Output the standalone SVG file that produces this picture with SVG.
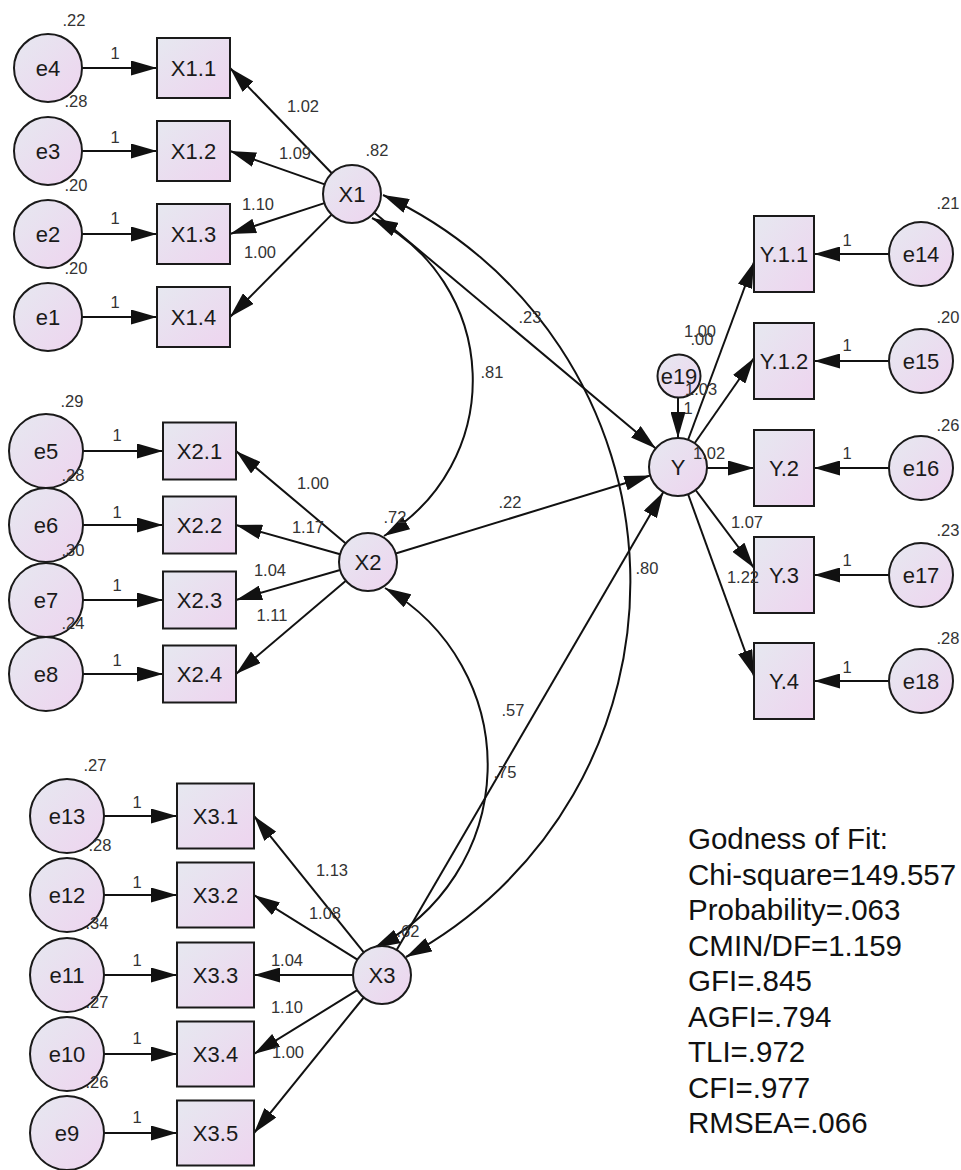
<svg xmlns="http://www.w3.org/2000/svg" width="961" height="1170" viewBox="0 0 961 1170">
<style>
.n{fill:url(#g);stroke:#1a1a1a;stroke-width:2}
.t{font-family:"Liberation Sans",Arial,sans-serif;font-size:22px;fill:#1a1a1a;text-anchor:middle}
.l{font-family:"Liberation Sans",Arial,sans-serif;font-size:16.5px;fill:#333;text-anchor:middle}
.s{text-anchor:start}
.f{font-family:"Liberation Sans",Arial,sans-serif;font-size:29.5px;fill:#111}
#connectors line,#connectors path{stroke:#111;stroke-width:2;fill:none}
</style>
<defs>
<linearGradient id="g" x1="0" y1="0" x2="1" y2="1">
<stop offset="0" stop-color="#e6e8f0"/>
<stop offset="1" stop-color="#eed4ef"/>
</linearGradient>
<marker id="ah" viewBox="0 0 26 15" refX="26" refY="7.5" markerWidth="26" markerHeight="15" markerUnits="userSpaceOnUse" orient="auto"><path d="M0,0 L26,7.5 L0,15 z" fill="#111"/></marker>
<marker id="ah2" viewBox="0 0 26 15" refX="26" refY="7.5" markerWidth="26" markerHeight="15" markerUnits="userSpaceOnUse" orient="auto-start-reverse"><path d="M0,0 L26,7.5 L0,15 z" fill="#111"/></marker>
</defs>
<rect width="961" height="1170" fill="#fff"/>
<g id="connectors">
<g marker-end="url(#ah)">
<line x1="82" y1="68" x2="157" y2="68"/>
<line x1="82" y1="151" x2="157" y2="151"/>
<line x1="82" y1="234" x2="157" y2="234"/>
<line x1="82" y1="317" x2="157" y2="317"/>
<line x1="83" y1="451" x2="163" y2="451"/>
<line x1="83" y1="525" x2="163" y2="525"/>
<line x1="83" y1="600" x2="163" y2="600"/>
<line x1="83" y1="674" x2="163" y2="674"/>
<line x1="104" y1="816" x2="177" y2="816"/>
<line x1="104" y1="895" x2="177" y2="895"/>
<line x1="104" y1="975" x2="177" y2="975"/>
<line x1="104" y1="1054" x2="177" y2="1054"/>
<line x1="104" y1="1133" x2="177" y2="1133"/>
<line x1="889" y1="254" x2="814" y2="254"/>
<line x1="889" y1="361" x2="814" y2="361"/>
<line x1="889" y1="468" x2="814" y2="468"/>
<line x1="889" y1="575" x2="814" y2="575"/>
<line x1="889" y1="681" x2="814" y2="681"/>
<line x1="331.8" y1="173.2" x2="230" y2="68"/>
<line x1="324.7" y1="184.4" x2="230" y2="151"/>
<line x1="324.4" y1="203.1" x2="230" y2="234"/>
<line x1="331.6" y1="214.6" x2="230" y2="317"/>
<line x1="345.8" y1="543.4" x2="236" y2="451"/>
<line x1="340.1" y1="554.2" x2="236" y2="525"/>
<line x1="340.1" y1="570" x2="236" y2="600"/>
<line x1="345.9" y1="580.8" x2="236" y2="674"/>
<line x1="363.8" y1="952.4" x2="254" y2="816"/>
<line x1="357.4" y1="959.6" x2="254" y2="895"/>
<line x1="353" y1="975" x2="254" y2="975"/>
<line x1="357.3" y1="990.2" x2="254" y2="1054"/>
<line x1="363.7" y1="997.5" x2="254" y2="1133"/>
<line x1="688" y1="440" x2="754" y2="262"/>
<line x1="694.6" y1="443.2" x2="754" y2="358"/>
<line x1="707" y1="468" x2="754" y2="468"/>
<line x1="695.6" y1="490" x2="754" y2="568"/>
<line x1="688" y1="494" x2="754" y2="676"/>
<line x1="374.2" y1="212.6" x2="655.8" y2="448.4"/>
<line x1="395.7" y1="553.5" x2="650.3" y2="475.5"/>
<line x1="396.6" y1="950" x2="663.4" y2="492"/>
<line x1="678" y1="398" x2="678" y2="438"/>
</g>
<g marker-start="url(#ah2)" marker-end="url(#ah2)">
<path d="M372,218 A181,181 0 0 1 384,536"/>
<path d="M385,588 A204,204 0 0 1 374,948"/>
<path d="M383,195 A426,426 0 0 1 406,957"/>
</g>
</g>
<g id="e4"><circle class="n" cx="48" cy="68" r="34"/><text class="t" x="48" y="76">e4</text></g>
<g id="e3"><circle class="n" cx="48" cy="151" r="34"/><text class="t" x="48" y="159">e3</text></g>
<g id="e2"><circle class="n" cx="48" cy="234" r="34"/><text class="t" x="48" y="242">e2</text></g>
<g id="e1"><circle class="n" cx="48" cy="317" r="34"/><text class="t" x="48" y="325">e1</text></g>
<g id="X1.1"><rect class="n" x="157" y="38" width="73" height="60"/><text class="t" x="193.5" y="76">X1.1</text></g>
<g id="X1.2"><rect class="n" x="157" y="121" width="73" height="60"/><text class="t" x="193.5" y="159">X1.2</text></g>
<g id="X1.3"><rect class="n" x="157" y="204" width="73" height="60"/><text class="t" x="193.5" y="242">X1.3</text></g>
<g id="X1.4"><rect class="n" x="157" y="287" width="73" height="60"/><text class="t" x="193.5" y="325">X1.4</text></g>
<g id="X1"><circle class="n" cx="352" cy="194" r="29"/><text class="t" x="352" y="202">X1</text></g>
<g id="e5"><circle class="n" cx="46" cy="451" r="37"/><text class="t" x="46" y="459">e5</text></g>
<g id="e6"><circle class="n" cx="46" cy="525" r="37"/><text class="t" x="46" y="533">e6</text></g>
<g id="e7"><circle class="n" cx="46" cy="600" r="37"/><text class="t" x="46" y="608">e7</text></g>
<g id="e8"><circle class="n" cx="46" cy="674" r="37"/><text class="t" x="46" y="682">e8</text></g>
<g id="X2.1"><rect class="n" x="163" y="422.5" width="73" height="57"/><text class="t" x="199.5" y="459">X2.1</text></g>
<g id="X2.2"><rect class="n" x="163" y="496.5" width="73" height="57"/><text class="t" x="199.5" y="533">X2.2</text></g>
<g id="X2.3"><rect class="n" x="163" y="571.5" width="73" height="57"/><text class="t" x="199.5" y="608">X2.3</text></g>
<g id="X2.4"><rect class="n" x="163" y="645.5" width="73" height="57"/><text class="t" x="199.5" y="682">X2.4</text></g>
<g id="X2"><circle class="n" cx="368" cy="562" r="29"/><text class="t" x="368" y="570">X2</text></g>
<g id="e13"><circle class="n" cx="67" cy="816" r="37"/><text class="t" x="67" y="824">e13</text></g>
<g id="e12"><circle class="n" cx="67" cy="895" r="37"/><text class="t" x="67" y="903">e12</text></g>
<g id="e11"><circle class="n" cx="67" cy="975" r="37"/><text class="t" x="67" y="983">e11</text></g>
<g id="e10"><circle class="n" cx="67" cy="1054" r="37"/><text class="t" x="67" y="1062">e10</text></g>
<g id="e9"><circle class="n" cx="67" cy="1133" r="37"/><text class="t" x="67" y="1141">e9</text></g>
<g id="X3.1"><rect class="n" x="177" y="783.5" width="77" height="65"/><text class="t" x="215.5" y="824">X3.1</text></g>
<g id="X3.2"><rect class="n" x="177" y="862.5" width="77" height="65"/><text class="t" x="215.5" y="903">X3.2</text></g>
<g id="X3.3"><rect class="n" x="177" y="942.5" width="77" height="65"/><text class="t" x="215.5" y="983">X3.3</text></g>
<g id="X3.4"><rect class="n" x="177" y="1021.5" width="77" height="65"/><text class="t" x="215.5" y="1062">X3.4</text></g>
<g id="X3.5"><rect class="n" x="177" y="1100.5" width="77" height="65"/><text class="t" x="215.5" y="1141">X3.5</text></g>
<g id="X3"><circle class="n" cx="382" cy="975" r="29"/><text class="t" x="382" y="983">X3</text></g>
<g id="Y.1.1"><rect class="n" x="754" y="216" width="60" height="76"/><text class="t" x="784" y="262">Y.1.1</text></g>
<g id="Y.1.2"><rect class="n" x="754" y="323" width="60" height="76"/><text class="t" x="784" y="369">Y.1.2</text></g>
<g id="Y.2"><rect class="n" x="754" y="430" width="60" height="76"/><text class="t" x="784" y="476">Y.2</text></g>
<g id="Y.3"><rect class="n" x="754" y="537" width="60" height="76"/><text class="t" x="784" y="583">Y.3</text></g>
<g id="Y.4"><rect class="n" x="754" y="643" width="60" height="76"/><text class="t" x="784" y="689">Y.4</text></g>
<g id="e14"><circle class="n" cx="921" cy="254" r="32"/><text class="t" x="921" y="262">e14</text></g>
<g id="e15"><circle class="n" cx="921" cy="361" r="32"/><text class="t" x="921" y="369">e15</text></g>
<g id="e16"><circle class="n" cx="921" cy="468" r="32"/><text class="t" x="921" y="476">e16</text></g>
<g id="e17"><circle class="n" cx="921" cy="575" r="32"/><text class="t" x="921" y="583">e17</text></g>
<g id="e18"><circle class="n" cx="921" cy="681" r="32"/><text class="t" x="921" y="689">e18</text></g>
<g id="e19"><circle class="n" cx="679" cy="376" r="21.5"/><text class="t" x="679" y="384">e19</text></g>
<g id="Y"><circle class="n" cx="678" cy="467" r="29"/><text class="t" x="678" y="475">Y</text></g>
<g id="labels">
<text class="l" x="74" y="26">.22</text>
<text class="l" x="76" y="107">.28</text>
<text class="l" x="76" y="191">.20</text>
<text class="l" x="76" y="274">.20</text>
<text class="l" x="115" y="59">1</text>
<text class="l" x="115" y="143">1</text>
<text class="l" x="115" y="224">1</text>
<text class="l" x="115" y="308">1</text>
<text class="l" x="303" y="112">1.02</text>
<text class="l" x="295" y="159">1.09</text>
<text class="l" x="258" y="210">1.10</text>
<text class="l" x="260" y="258">1.00</text>
<text class="l" x="377" y="156">.82</text>
<text class="l" x="72" y="407">.29</text>
<text class="l" x="73" y="481">.28</text>
<text class="l" x="73" y="556">.30</text>
<text class="l" x="73" y="629">.24</text>
<text class="l" x="117" y="441">1</text>
<text class="l" x="117" y="518">1</text>
<text class="l" x="117" y="591">1</text>
<text class="l" x="117" y="666">1</text>
<text class="l" x="313" y="489">1.00</text>
<text class="l" x="308" y="533">1.17</text>
<text class="l" x="270" y="576">1.04</text>
<text class="l" x="272" y="621">1.11</text>
<text class="l" x="395" y="523">.72</text>
<text class="l" x="95" y="771">.27</text>
<text class="l" x="100" y="851">.28</text>
<text class="l" x="97" y="929">.34</text>
<text class="l" x="97" y="1008">.27</text>
<text class="l" x="97" y="1088">.26</text>
<text class="l" x="137" y="808">1</text>
<text class="l" x="137" y="888">1</text>
<text class="l" x="137" y="966">1</text>
<text class="l" x="137" y="1044">1</text>
<text class="l" x="137" y="1123">1</text>
<text class="l" x="332" y="876">1.13</text>
<text class="l" x="325" y="919">1.08</text>
<text class="l" x="287" y="966">1.04</text>
<text class="l" x="287" y="1013">1.10</text>
<text class="l" x="288" y="1058">1.00</text>
<text class="l" x="408" y="937">.62</text>
<text class="l" x="948" y="209">.21</text>
<text class="l" x="948" y="323">.20</text>
<text class="l" x="948" y="431">.26</text>
<text class="l" x="948" y="536">.23</text>
<text class="l" x="948" y="644">.28</text>
<text class="l" x="847" y="246">1</text>
<text class="l" x="847" y="351">1</text>
<text class="l" x="847" y="459">1</text>
<text class="l" x="847" y="566">1</text>
<text class="l" x="847" y="673">1</text>
<text class="l" x="700" y="337">1.00</text>
<text class="l" x="702" y="345">.00</text>
<text class="l s" x="685" y="395">1.03</text>
<text class="l" x="688" y="414">1</text>
<text class="l s" x="693" y="459">1.02</text>
<text class="l" x="747" y="528">1.07</text>
<text class="l" x="743" y="583">1.22</text>
<text class="l" x="647" y="574">.80</text>
<text class="l" x="530" y="323">.23</text>
<text class="l" x="492" y="378">.81</text>
<text class="l" x="510" y="508">.22</text>
<text class="l" x="513" y="716">.57</text>
<text class="l" x="505" y="778">.75</text>
</g>
<g id="fit">
<text class="f" x="688" y="849">Godness of Fit:</text>
<text class="f" x="688" y="884.5">Chi-square=149.557</text>
<text class="f" x="688" y="920">Probability=.063</text>
<text class="f" x="688" y="955.5">CMIN/DF=1.159</text>
<text class="f" x="688" y="991">GFI=.845</text>
<text class="f" x="688" y="1026.5">AGFI=.794</text>
<text class="f" x="688" y="1062">TLI=.972</text>
<text class="f" x="688" y="1097.5">CFI=.977</text>
<text class="f" x="688" y="1133">RMSEA=.066</text>
</g>
</svg>
